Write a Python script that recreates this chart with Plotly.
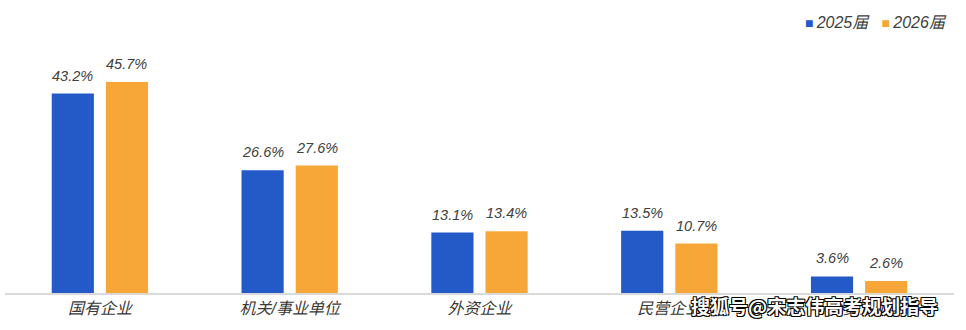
import plotly.graph_objects as go

categories = ["国有企业", "机关/事业单位", "外资企业", "民营企业", "合资企业"]
series_names = ["2025届", "2026届"]
values_2025 = [43.2, 26.6, 13.1, 13.5, 3.6]
values_2026 = [45.7, 27.6, 13.4, 10.7, 2.6]
colors = ["#2459C8", "#F7A738"]
watermark = "搜狐号@宋志伟高考规划指导"

FONT = "Liberation Sans, Arial, Noto Sans CJK SC, sans-serif"

fig = go.Figure()
for name, vals, col in zip(series_names, [values_2025, values_2026], colors):
    fig.add_trace(go.Bar(
        x=categories, y=vals, name=name,
        marker=dict(color=col, line=dict(width=0)),
        showlegend=False,
    ))

# value labels above bars
for vals, shift in zip([values_2025, values_2026], [-27, 27]):
    for cat, v in zip(categories, vals):
        fig.add_annotation(
            x=cat, y=v, xshift=shift, yshift=18, text=f"{v:.1f}%",
            showarrow=False, xanchor="center", yanchor="middle",
            font=dict(family=FONT, size=14.5, color="#404040", style="italic"),
        )

# manual legend
fig.add_annotation(
    text=("<span style='color:%s;font-size:14px'>■</span>&#8201;%s"
          "   <span style='color:%s;font-size:14px'>■</span>&#8201;%s")
    % (colors[0], series_names[0], colors[1], series_names[1]),
    xref="paper", yref="paper", x=0.995, y=1.071, xanchor="right", yanchor="middle",
    showarrow=False,
    font=dict(family=FONT, size=16, color="#404040", style="italic"),
)

fig.add_annotation(
    text=watermark, xref="paper", yref="paper", x=0.985, y=-0.05,
    xanchor="right", yanchor="middle", showarrow=False,
    font=dict(family="Noto Sans CJK SC", size=19, color="white", weight="bold",
              shadow="1px 1px 0 #000, -1px -1px 0 #000, 1px -1px 0 #000, -1px 1px 0 #000"),
)

fig.update_layout(
    width=966, height=330,
    margin=dict(l=5, r=12, t=40, b=37, autoexpand=False),
    paper_bgcolor="white", plot_bgcolor="white",
    barmode="group", bargap=0.429, bargroupgap=0.222,
    showlegend=False,
    xaxis=dict(showline=True, linecolor="#D9D9D9", linewidth=1.5, ticks="",
               tickfont=dict(family=FONT, size=16, color="#383838", style="italic"),
               showgrid=False, automargin=False),
    yaxis=dict(range=[0, 54.8], visible=False, showgrid=False, zeroline=False,
               automargin=False),
)

fig.write_html("out.html")
